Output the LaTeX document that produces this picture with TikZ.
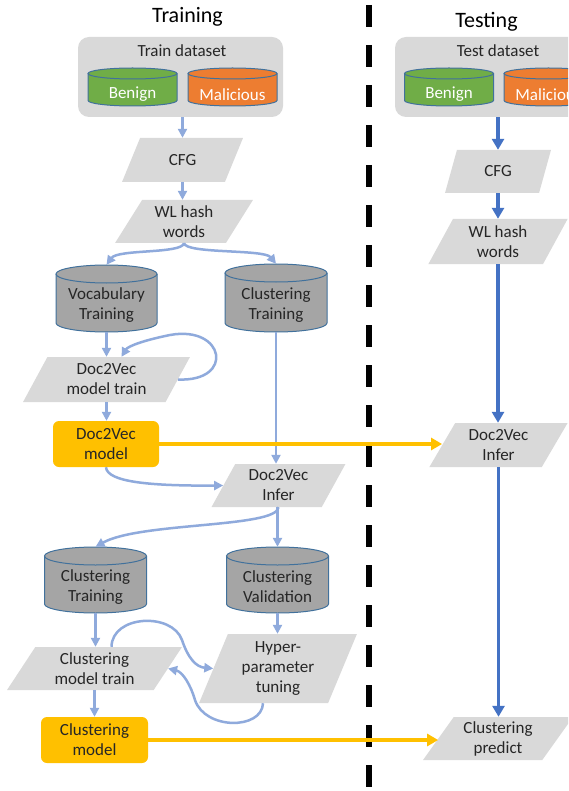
\documentclass[tikz,border=0pt]{standalone}
\usepackage{fontspec}
\setmainfont{Carlito}
\usetikzlibrary{arrows.meta,shapes.geometric,calc}
\definecolor{lgray}{HTML}{D9D9D9}
\definecolor{cgray}{HTML}{A5A5A5}
\definecolor{cedge}{HTML}{41719C}
\definecolor{lblue}{HTML}{8FAADC}
\definecolor{dblue}{HTML}{4472C4}
\definecolor{gold}{HTML}{FFC000}
\definecolor{bgreen}{HTML}{70AD47}
\definecolor{borange}{HTML}{ED7D31}
\definecolor{txt}{HTML}{262626}
\tikzset{
  bodyfont/.style={font=\fontsize{17}{20}\selectfont},
  para/.style={trapezium, trapezium stretches=true, fill=lgray, draw=none, inner sep=1pt,
    align=center, text=txt, bodyfont},
  modelbox/.style={fill=gold, rounded corners=6pt, align=center, text=txt, inner sep=0pt, bodyfont},
  dsbox/.style={fill=lgray, rounded corners=11pt, inner sep=0pt},
  la/.style={draw=lblue, line width=2.5pt, -{Triangle[length=9pt,width=9pt]}},
  ta/.style={draw=dblue, line width=3.5pt, -{Triangle[length=11pt,width=12pt]}},
  ya/.style={draw=gold, line width=3.5pt, -{Triangle[length=11pt,width=12pt]}},
  titlefont/.style={font=\fontsize{22}{25}\selectfont, text=black},
}
% #1 name, #2 cx, #3 top, #4 bottom, #5 half width, #6 ry, #7 fill, #8 text colour, #9 text
\newcommand{\mycyl}[9]{%
  \fill[#7] (#2-#5,#3+#6) -- (#2-#5,#4-#6) arc[start angle=180,end angle=0,x radius=#5,y radius=#6]
     -- (#2+#5,#3+#6) arc[start angle=0,end angle=-180,x radius=#5,y radius=#6] -- cycle;
  \draw[cedge, line width=1pt] (#2-#5,#3+#6) -- (#2-#5,#4-#6) arc[start angle=180,end angle=0,x radius=#5,y radius=#6]
     -- (#2+#5,#3+#6);
  \draw[cedge, line width=1pt] (#2,#3+#6) ellipse[x radius=#5, y radius=#6];
  \node[inner sep=0pt, minimum width={2*#5pt}, minimum height={(#4-#3)*1pt}] (#1) at (#2,{(#3+#4)/2}) {};
  \node[inner sep=0pt, align=center, text=#8, bodyfont] (#1-t) at (#2,{(#3+2*#6+#4)/2+2-4*(#6-5.5)/3.5}) {#9};
}
\begin{document}
\begin{tikzpicture}[x=1pt,y=-1pt]
\useasboundingbox (0,0) rectangle (568,791);
\clip (0,0) rectangle (568,791);
\fill[white] (0,0) rectangle (568,791);

% divider
\draw[black, line width=5.5pt, dash pattern=on 22pt off 18pt] (369,5) -- (369,800);

% titles
\node[titlefont, anchor=base] (ttrain) at (187.5,23) {Training};
\node[titlefont, anchor=base] (ttest) at (486.5,28) {Testing};

% dataset boxes
\node[dsbox, minimum width=205pt, minimum height=80pt] (trbox) at (180.5,77) {};
\node[dsbox, minimum width=205pt, minimum height=80pt] (tsbox) at (497.5,77) {};
\node[bodyfont, text=txt, anchor=base] (trlab) at (182,57) {Train dataset};
\node[bodyfont, text=txt, anchor=base] (tslab) at (498,57) {Test dataset};
\mycyl{ben}{132.5}{68}{106}{44.5}{5.5}{bgreen}{white}{Benign}
\mycyl{mal}{232.5}{68}{106}{44.5}{5.5}{borange}{white}{Malicious}
\mycyl{tben}{449}{68}{106}{44.5}{5.5}{bgreen}{white}{Benign}
\mycyl{tmal}{548.5}{68}{106}{44.5}{5.5}{borange}{white}{Malicious}

% training column
\node[para, trapezium left angle=64.5, trapezium right angle=115.5, minimum width=121pt, minimum height=44pt] (cfg) at (182.5,160) {CFG};
\node[para, trapezium left angle=60, trapezium right angle=120, minimum width=138pt, minimum height=43pt] (wl) at (184,221.5) {WL hash\\words};
\mycyl{voc}{106.5}{265}{332}{50.5}{9}{cgray}{txt}{Vocabulary\\Training}
\mycyl{ct1}{276}{264}{332}{51}{9}{cgray}{txt}{Clustering\\Training}
\node[para, trapezium left angle=63, trapezium right angle=117, minimum width=167pt, minimum height=45pt] (d2vt) at (106.5,379.5) {Doc2Vec\\model train};
\node[modelbox, minimum width=106pt, minimum height=46pt] (d2vm) at (106,444) {Doc2Vec\\model};
\node[para, trapezium left angle=63, trapezium right angle=117, minimum width=135pt, minimum height=43pt] (inf) at (278.5,485.5) {Doc2Vec\\Infer};
\mycyl{ct2}{95.5}{547}{613}{51}{9}{cgray}{txt}{Clustering\\Training}
\mycyl{cv}{277.5}{547}{613}{51}{9}{cgray}{txt}{Clustering\\Validation}
\node[para, trapezium left angle=60, trapezium right angle=120, minimum width=175pt, minimum height=43pt] (cmt) at (94.5,668.5) {Clustering\\model train};
\node[para, trapezium left angle=69, trapezium right angle=111, minimum width=158pt, minimum height=69pt] (hyp) at (278,668.5) {Hyper-\\parameter\\tuning};
\node[modelbox, minimum width=107pt, minimum height=46pt] (cm) at (94.5,740) {Clustering\\model};

% testing column
\node[para, trapezium left angle=72, trapezium right angle=108, minimum width=106pt, minimum height=43pt] (tcfg) at (498,171.5) {CFG};
\node[para, trapezium left angle=64, trapezium right angle=116, minimum width=140pt, minimum height=45pt] (twl) at (498,241.5) {WL hash\\words};
\node[para, trapezium left angle=61, trapezium right angle=119, minimum width=139pt, minimum height=44pt] (tinf) at (498.5,445) {Doc2Vec\\Infer};
\node[para, trapezium left angle=56, trapezium right angle=124, minimum width=150pt, minimum height=43pt] (tcp) at (498,738.5) {Clustering\\predict};

% training connectors
\draw[la] (trbox.south -| cfg.north) -- (cfg.north);
\draw[la] (cfg.south) -- (cfg.south |- wl.north);
\draw[la] (wl.south) .. controls (182,254) and (118,249) .. (voc.north);
\draw[la] (wl.south) .. controls (186,254) and (264,249) .. (ct1.north);
\draw[la] (voc.south) -- (voc.south |- d2vt.north);
\draw[la] (d2vt.east) .. controls (235,382) and (225,325) .. (170,335) .. controls (145,340) and (128,346) .. ($(d2vt.north)+(15,0)$);
\draw[la] (d2vt.south) -- (d2vt.south |- d2vm.north);
\draw[la] (ct1.south) -- (ct1.south |- inf.north);
\draw[la] (d2vm.south) .. controls (107,482) and (150,486) .. (inf.west);
\draw[la] (inf.south) .. controls (277,528) and (140,522) .. (ct2.north);
\draw[la] (inf.south -| cv.north) -- (cv.north);
\draw[la] (ct2.south) -- (ct2.south |- cmt.north);
\draw[la] (cv.south) -- (cv.south |- hyp.north);
\draw[la] ($(cmt.north)+(17,0)$) .. controls (112,615) and (172,612) .. (182,640) .. controls (188,658) and (196,667) .. (hyp.west);
\draw[la] ($(hyp.south)+(-15,0)$) .. controls (262,730) and (205,730) .. (195,700) .. controls (191,686) and (183,672) .. (cmt.east);
\draw[la] (cmt.south) -- (cmt.south |- cm.north);

% testing connectors
\draw[ta] (tsbox.south -| tcfg.north) -- (tcfg.north);
\draw[ta] (tcfg.south) -- (tcfg.south |- twl.north);
\draw[ta] (twl.south) -- (twl.south |- tinf.north);
\draw[ta] (tinf.south) -- (tinf.south |- tcp.north);

% model transfer
\draw[ya] (d2vm.east) -- (d2vm.east -| tinf.west);
\draw[ya] (cm.east) -- (cm.east -| tcp.west);
\end{tikzpicture}
\end{document}
